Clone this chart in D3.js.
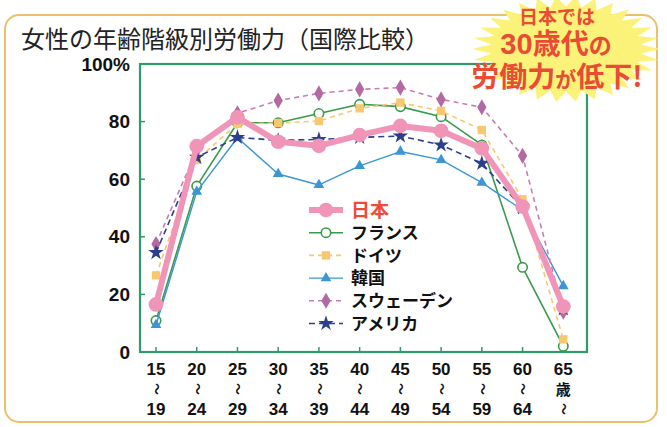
<!DOCTYPE html>
<html>
<head>
<meta charset="utf-8">
<script src="https://cdn.jsdelivr.net/npm/d3@7"></script>
<style>
  html, body { margin: 0; padding: 0; background: #fff; }
  svg { display: block; font-family: "Noto Sans CJK JP", "Noto Sans", sans-serif; }
</style>
</head>
<body>
<svg id="chart" width="667" height="427"></svg>
<script>
// Age groups (lower bound of each 5-year band)
const ageGroups = ["15", "20", "25", "30", "35", "40", "45", "50", "55", "60", "65"];
const ageUpper = ["19", "24", "29", "34", "39", "44", "49", "54", "59", "64", ""];
const yTicks = [0, 20, 40, 60, 80, 100];

// Female labour force participation rate (%) by age group
const japan  = [16.5, 71.5, 81.5, 73.0, 71.6, 75.3, 78.5, 76.8, 70.7, 50.5, 15.8];
const france = [10.9, 57.6, 79.6, 79.6, 82.8, 86.0, 85.2, 81.7, 71.9, 29.4, 2.0];
const germany = [26.6, 66.7, 79.2, 79.5, 80.2, 84.6, 86.6, 83.7, 77.1, 53.0, 4.4];
const korea  = [9.4, 55.7, 74.4, 61.8, 58.0, 64.6, 69.6, 66.7, 58.8, 49.3, 22.9];
const sweden = [37.5, 70.0, 82.9, 87.3, 89.8, 91.2, 91.8, 87.7, 85.0, 68.1, 14.0];
const usa    = [34.5, 67.6, 74.5, 73.5, 73.8, 74.5, 75.0, 71.9, 65.5, 50.0, 15.0];

const seriesNames = ["日本", "フランス", "ドイツ", "韓国", "スウェーデン", "アメリカ"];

const svg = d3.select("#chart");

// Rounded outer panel
svg.append("rect")
  .attr("x", 5).attr("y", 15).attr("width", 652).attr("height", 407)
  .attr("rx", 14).attr("ry", 14)
  .attr("fill", "#fff").attr("stroke", "#ebc06c").attr("stroke-width", 2);

// Title
svg.append("text")
  .attr("x", 21).attr("y", 48)
  .attr("font-size", 24).attr("fill", "#222")
  .text("女性の年齢階級別労働力（国際比較）");

const x = d3.scalePoint().domain(ageGroups).range([156, 563.3]);
const y = d3.scaleLinear().domain([0, 100]).range([352, 64]);

const plot = { left: 140, right: 587, top: y(100), bottom: y(0) };

// Y axis labels (no domain line; frame drawn separately)
const yAxis = d3.axisLeft(y).tickValues(yTicks)
  .tickFormat(d => d === 100 ? "100%" : d).tickSize(0).tickPadding(10);
const gy = svg.append("g").attr("transform", `translate(${plot.left},0)`).call(yAxis);
gy.select(".domain").remove();
gy.selectAll("text")
  .attr("font-size", 19).attr("font-weight", "bold").attr("fill", "#111")
  .attr("font-family", "Liberation Sans, Arial, sans-serif");

// Inner ticks on the left and bottom edges
svg.append("g").selectAll("line").data(yTicks.slice(1, -1)).join("line")
  .attr("x1", plot.left).attr("x2", plot.left + 5)
  .attr("y1", d => y(d)).attr("y2", d => y(d))
  .attr("stroke", "#2f9a6a").attr("stroke-width", 1.5);
svg.append("g").selectAll("line").data(ageGroups).join("line")
  .attr("x1", d => x(d)).attr("x2", d => x(d))
  .attr("y1", plot.bottom).attr("y2", plot.bottom - 5)
  .attr("stroke", "#2f9a6a").attr("stroke-width", 1.5);

// Plot frame
svg.append("rect")
  .attr("x", plot.left).attr("y", plot.top)
  .attr("width", plot.right - plot.left).attr("height", plot.bottom - plot.top)
  .attr("fill", "none").attr("stroke", "#2f9a6a").attr("stroke-width", 2.2);

// X axis labels: "15 〜 19" stacked vertically
const xl = svg.append("g").attr("font-weight", "bold").attr("fill", "#111");
ageGroups.forEach((a, i) => {
  const cx = x(a);
  xl.append("text").attr("x", cx).attr("y", 375).attr("text-anchor", "middle")
    .attr("font-size", 17).attr("font-family", "Liberation Sans, Arial, sans-serif").text(a);
  if (ageUpper[i]) {
    xl.append("text").attr("x", cx).attr("y", 415).attr("text-anchor", "middle")
      .attr("font-size", 17).attr("font-family", "Liberation Sans, Arial, sans-serif").text(ageUpper[i]);
    xl.append("text").attr("transform", `translate(${cx},389) rotate(90)`)
      .attr("text-anchor", "middle").attr("dy", "0.35em").attr("font-size", 12).text("〜");
  } else {
    xl.append("text").attr("x", cx).attr("y", 395).attr("text-anchor", "middle")
      .attr("font-size", 15).text("歳");
    xl.append("text").attr("transform", `translate(${cx},409) rotate(90)`)
      .attr("text-anchor", "middle").attr("dy", "0.35em").attr("font-size", 12).text("〜");
  }
});

// Series styles
const series = [
  { name: seriesNames[1], values: france, color: "#3a9a4a", width: 1.6, dash: null, symbol: d3.symbolCircle, size: 70, fill: "#fff", mstroke: "#3a9a4a" },
  { name: seriesNames[2], values: germany, color: "#f8c870", width: 1.6, dash: "5,4", symbol: d3.symbolSquare, size: 70, fill: "#f8c870", mstroke: "none" },
  { name: seriesNames[3], values: korea, color: "#3b96d3", width: 1.4, dash: null, symbol: d3.symbolTriangle, size: 50, fill: "#3b96d3", mstroke: "none" },
  { name: seriesNames[4], values: sweden, color: "#c77db3", width: 1.6, dash: "5,4", symbol: d3.symbolDiamond, size: 75, fill: "#b36aa3", mstroke: "none" },
  { name: seriesNames[5], values: usa, color: "#2b3f8c", width: 1.6, dash: "6,4", symbol: d3.symbolStar, size: 75, fill: "#2b3f8c", mstroke: "none" },
  { name: seriesNames[0], values: japan, color: "#f195b8", width: 6, dash: null, symbol: d3.symbolCircle, size: 170, fill: "#f195b8", mstroke: "none" }
];

const line = d3.line().x((d, i) => x(ageGroups[i])).y(d => y(d));

series.forEach(s => {
  const g = svg.append("g");
  g.append("path").datum(s.values).attr("d", line)
    .attr("fill", "none").attr("stroke", s.color).attr("stroke-width", s.width)
    .attr("stroke-dasharray", s.dash).attr("stroke-linejoin", "round");
  g.selectAll("path.m").data(s.values).join("path").attr("class", "m")
    .attr("transform", (d, i) => `translate(${x(ageGroups[i])},${y(d)})`)
    .attr("d", d3.symbol(s.symbol, s.size))
    .attr("fill", s.fill).attr("stroke", s.mstroke).attr("stroke-width", 1.6);
});

// Legend
const legendOrder = [series[5], series[0], series[1], series[2], series[3], series[4]];
const lg = svg.append("g");
legendOrder.forEach((s, i) => {
  const ly = 210 + i * 22.7;
  lg.append("line").attr("x1", 309).attr("x2", 343).attr("y1", ly).attr("y2", ly)
    .attr("stroke", s.color).attr("stroke-width", s.width).attr("stroke-dasharray", s.dash);
  lg.append("path").attr("transform", `translate(326,${ly})`)
    .attr("d", d3.symbol(s.symbol, s.size)).attr("fill", s.fill)
    .attr("stroke", s.mstroke).attr("stroke-width", 1.6);
  const isJapan = i === 0;
  lg.append("text").attr("x", 351).attr("y", ly).attr("dy", "0.36em")
    .attr("font-size", isJapan ? 19 : 17).attr("font-weight", "bold")
    .attr("fill", isJapan ? "#ec4a3a" : "#111").text(s.name);
});

// Starburst callout
const burst = svg.append("g");
const cx0 = 566, cy0 = 49, rx = 94, ry = 53, spikes = 30;
const pts = d3.range(spikes * 2).map(k => {
  const a = (k / (spikes * 2)) * Math.PI * 2;
  const f = k % 2 === 0 ? 1 : 0.8;
  return [cx0 + Math.cos(a) * rx * f, cy0 + Math.sin(a) * ry * f];
});
burst.append("polygon").attr("points", pts.map(p => p.join(",")).join(" "))
  .attr("fill", "#fbf27a");

const red = "#ea4b35";
burst.append("text").attr("x", 557).attr("y", 24).attr("text-anchor", "middle")
  .attr("font-size", 19).attr("font-weight", "bold").attr("fill", red).text("日本では");
const t2 = burst.append("text").attr("x", 556).attr("y", 54).attr("text-anchor", "middle")
  .attr("font-weight", "bold").attr("fill", red);
t2.append("tspan").attr("font-size", 29).attr("font-family", "Liberation Sans, Arial, sans-serif").text("30");
t2.append("tspan").attr("font-size", 28).text("歳代");
t2.append("tspan").attr("font-size", 23).text("の");
const t3 = burst.append("text").attr("x", 557).attr("y", 87).attr("text-anchor", "middle")
  .attr("font-weight", "bold").attr("fill", red);
t3.append("tspan").attr("font-size", 28).text("労働力");
t3.append("tspan").attr("font-size", 21).text("が");
t3.append("tspan").attr("font-size", 28).text("低下!");
</script>
</body>
</html>
